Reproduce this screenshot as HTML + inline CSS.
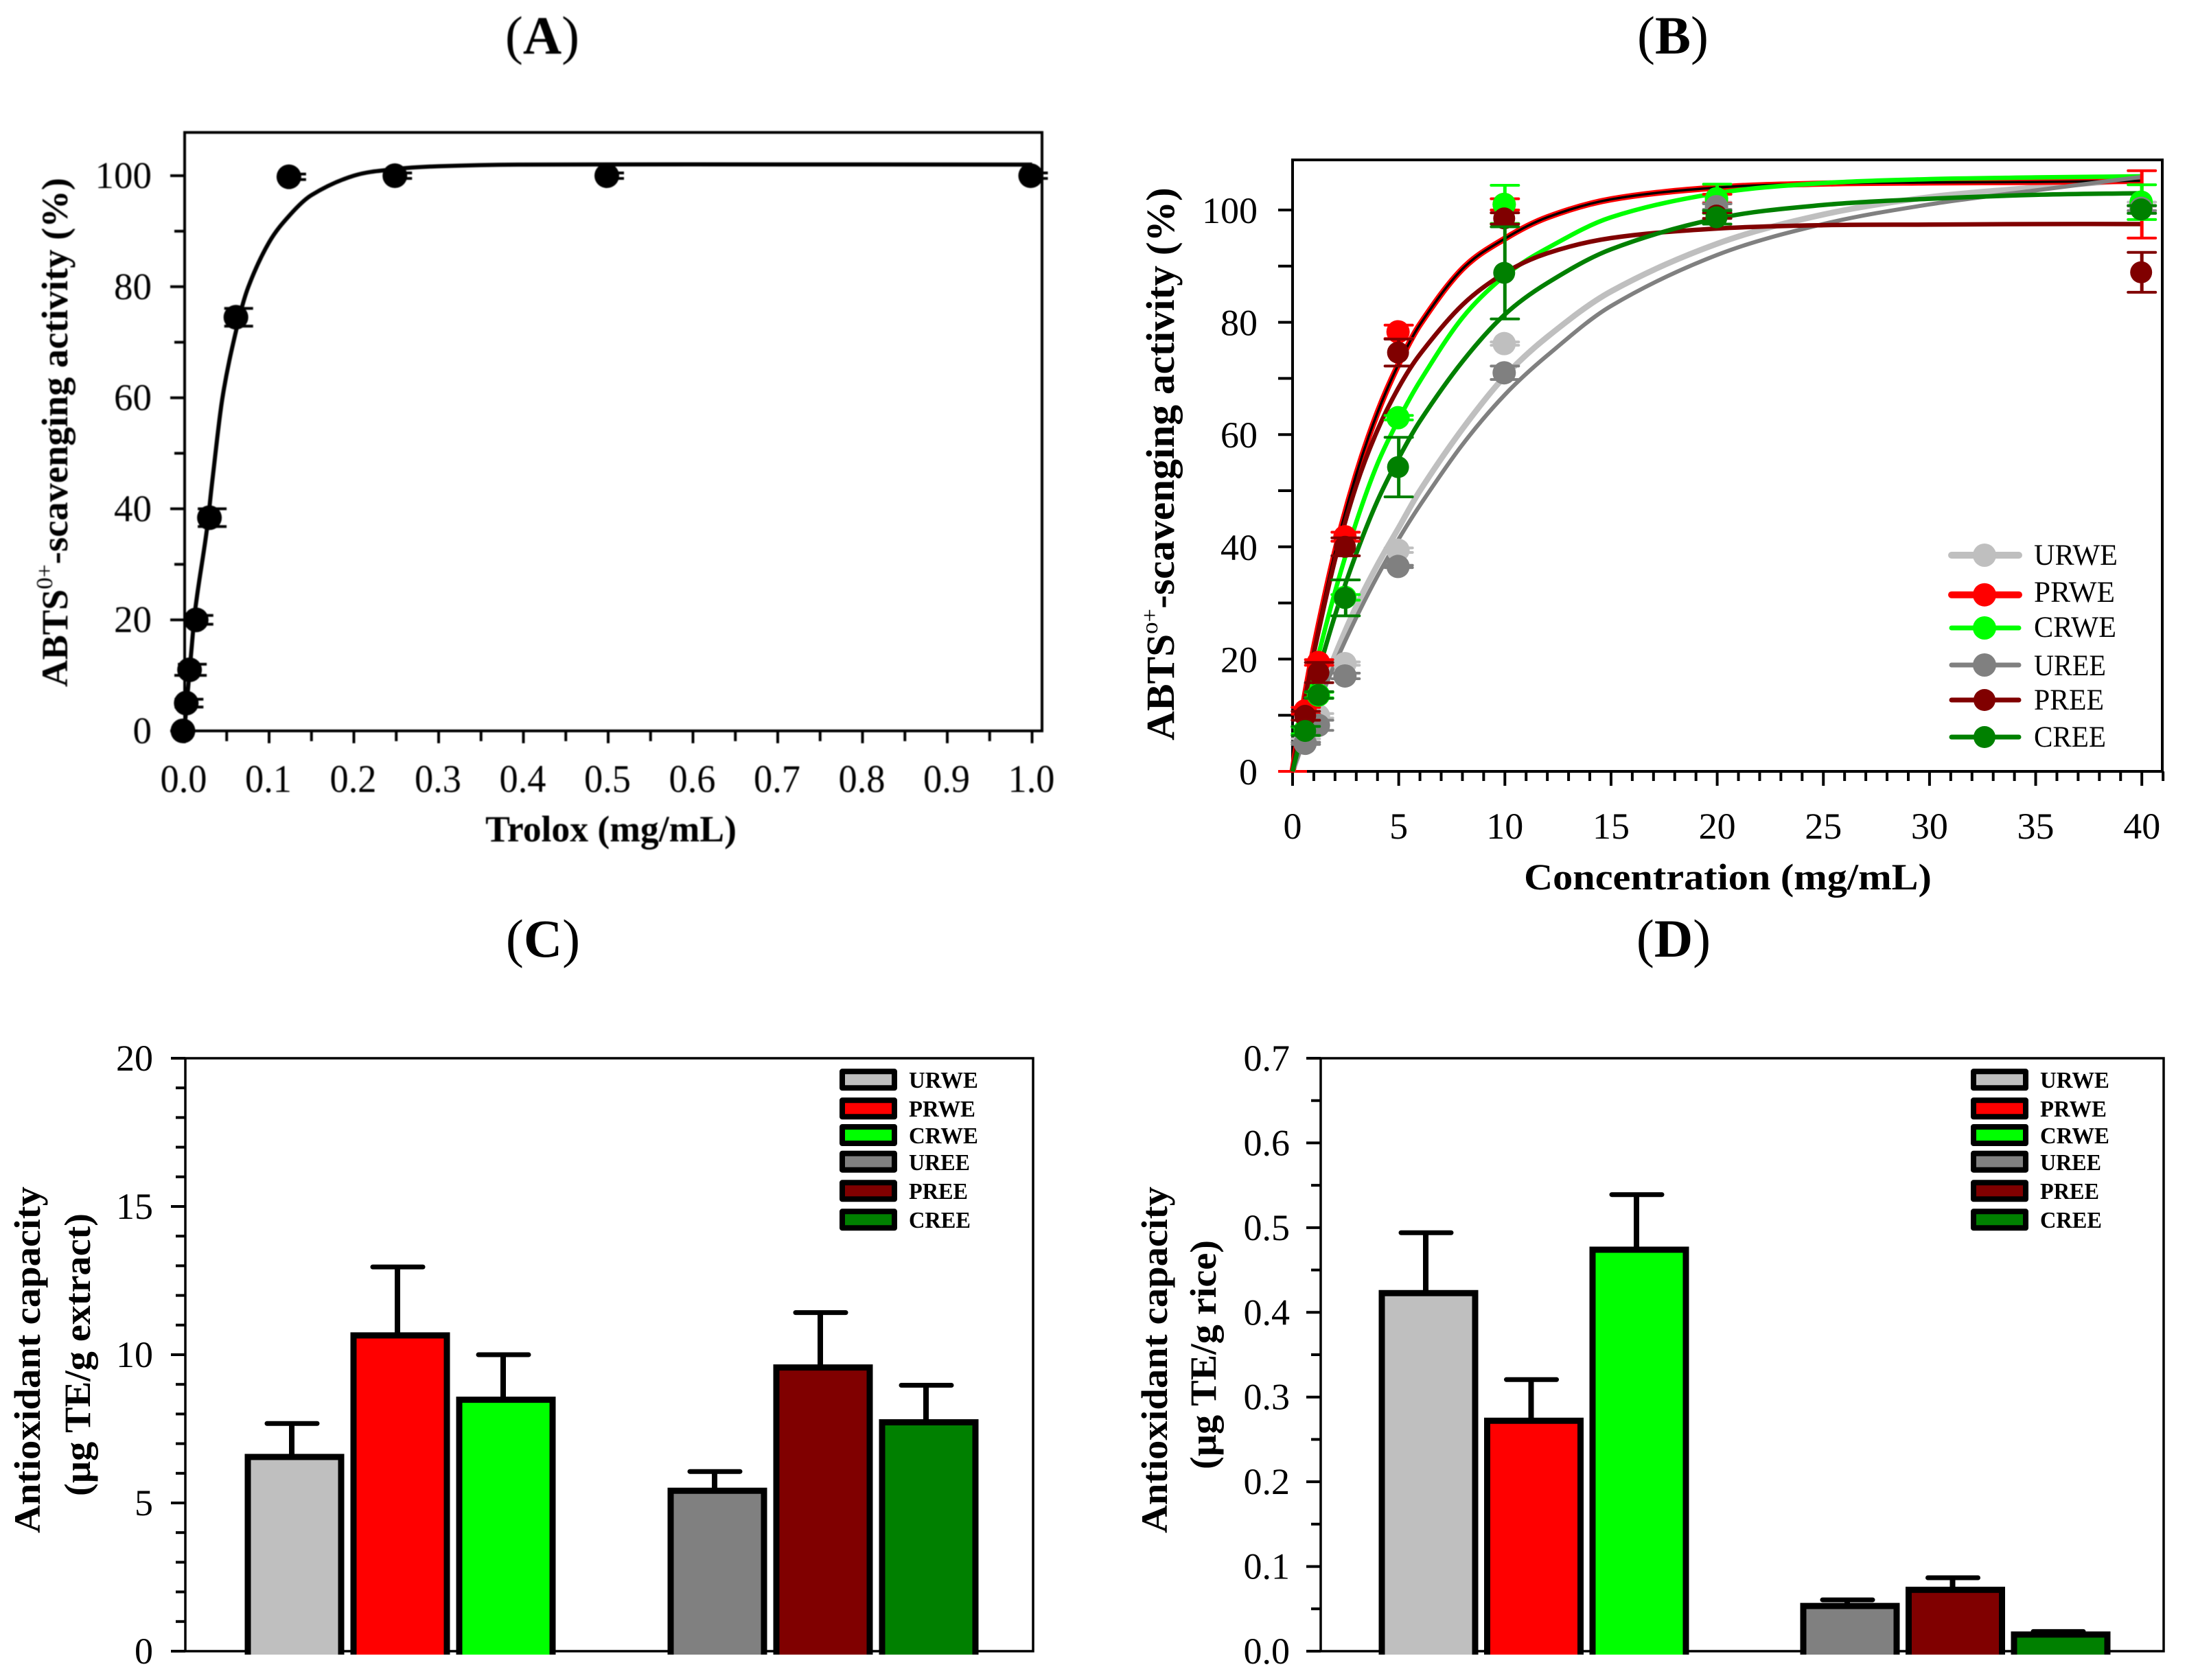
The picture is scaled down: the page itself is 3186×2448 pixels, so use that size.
<!DOCTYPE html>
<html lang="en">
<head>
<meta charset="utf-8">
<title>ABTS scavenging activity and antioxidant capacity</title>
<style>
html,body{margin:0;padding:0;background:#fff}
svg{display:block}
text{font-family:"Liberation Serif",serif;fill:#000}
</style>
</head>
<body>
<svg id="fig" xmlns="http://www.w3.org/2000/svg" width="3186" height="2448" viewBox="0 0 3186 2448">
<rect x="0" y="0" width="3186" height="2448" fill="#ffffff"/>
<g id="panelA" style="filter:blur(0.9px)"></g>
<g id="panelB"></g>
<g id="panelC"></g>
<g id="panelD"></g>
</svg>
<script>
/* ---------- Panel A data ---------- */
const aPointX = [0, 0.0039, 0.0078, 0.0156, 0.03125, 0.0625, 0.125, 0.25, 0.5, 1.0];
const aPointY = [0, 5, 11, 20, 38.4, 74.5, 99.8, 100, 100, 100];
const aPointErr = [0, 0.7, 1.0, 0.8, 1.6, 1.6, 0.5, 0.5, 0.5, 0.5];
const aCurveX = [0, 0.0075, 0.013, 0.0264, 0.033, 0.045, 0.0625, 0.0756, 0.1, 0.125, 0.15, 0.2, 0.25, 0.3, 0.4, 1.0];
const aCurveY = [0, 13, 22, 36, 45, 60, 73, 80, 88, 93, 96.5, 100, 101.2, 101.7, 102, 102];
const aXLabels = ['0.0','0.1','0.2','0.3','0.4','0.5','0.6','0.7','0.8','0.9','1.0'];
const aYLabels = ['0','20','40','60','80','100'];

/* ---------- Panel B data ---------- */
const seriesNames = ['URWE','PRWE','CRWE','UREE','PREE','CREE'];
const seriesColors = ['#bfbfbf','#ff0000','#00ff00','#808080','#800000','#008000'];
const bPointX = [0.625, 1.25, 2.5, 5, 10, 20, 40];
const urweY = [5.5, 9.9, 19.2, 39.4, 76.2, 100.6, 100.5];
const prweY = [10.8, 19.4, 41.8, 78.3, 101, 102, 101];
const crweY = [7.3, 13.6, 31, 63, 101, 102, 101.4];
const ureeY = [5, 8.2, 17, 36.5, 71, 100.6, 100.3];
const preeY = [9.9, 17.6, 40, 74.6, 98.5, 99, 88.9];
const creeY = [7.2, 13.6, 30.9, 54.2, 88.8, 98.7, 100.1];
const urweErr = [0.3, 0.4, 0.3, 0.4, 0.3, 0.8, 0.9];
const prweErr = [0.6, 0.5, 0.8, 1.2, 1, 0.8, 6];
const crweErr = [0.6, 0.5, 0.5, 0.4, 3.4, 2.6, 3.1];
const ureeErr = [0.2, 0.9, 0.5, 0.2, 1.2, 0.5, 0.4];
const preeErr = [0.8, 1.8, 1.6, 2.4, 1, 0.5, 3.55];
const creeErr = [0.8, 0.6, 3.2, 5.3, 8.2, 1.2, 0.7];
const bCurveX = [0, 0.5, 1, 2, 3, 4, 5, 6, 8, 10, 12, 15, 20, 25, 30, 35, 40];
const urweCurve = [0, 5.6, 10.9, 20.7, 29.4, 36.8, 43.4, 50, 61, 70.4, 77.4, 85.5, 94, 99.2, 102.3, 104, 105.5];
const prweCurve = [0, 11.7, 21.9, 39.1, 52.9, 63.9, 72.6, 79.6, 89.5, 94.9, 98.7, 101.9, 104, 104.7, 104.9, 105, 105.2];
const crweCurve = [0, 9, 17.4, 32, 44.4, 54.8, 62.7, 69.5, 80.8, 88.3, 93.2, 98.7, 103, 104.8, 105.5, 105.8, 106];
const ureeCurve = [0, 5.2, 10, 19.2, 27.4, 34.8, 41.4, 47.4, 58.2, 67.1, 74.1, 82.9, 92, 97.5, 101, 103.5, 105.9];
const preeCurve = [0, 11.1, 21, 37.7, 50.9, 60.8, 68.4, 74.3, 83.1, 88.8, 92.3, 95, 96.7, 97.3, 97.4, 97.5, 97.5];
const creeCurve = [0, 7.7, 14.9, 27.8, 38.8, 48.2, 55.8, 62.4, 73, 81.4, 87, 93, 98.5, 100.9, 102, 102.7, 103];
const bXLabels = ['0','5','10','15','20','25','30','35','40'];
const bYLabels = ['0','20','40','60','80','100'];

/* ---------- Panel C data ---------- */
const barSlots = [0, 1, 2, 4, 5, 6];
const cValues = [6.55, 10.65, 8.48, 5.41, 9.57, 7.72];
const cErrTops = [7.68, 12.96, 10.0, 6.06, 11.42, 8.97];
const cYLabels = ['0','5','10','15','20'];

/* ---------- Panel D data ---------- */
const dValues = [0.4227, 0.272, 0.474, 0.0534, 0.0724, 0.0196];
const dErrTops = [0.494, 0.3206, 0.539, 0.0606, 0.0867, 0.0232];
const dYLabels = ['0.0','0.1','0.2','0.3','0.4','0.5','0.6','0.7'];

/* ---------- axis functions ---------- */
const aX = v => 268.5 + 1235 * v;
const aY = v => 1065 - 8.09 * v;
const bX = v => 1883 + 30.93 * v;
const bY = v => 1124 - 8.18 * v;
const cX = s => 429 + 154 * s;
const cY = v => 2406 - 43.2 * v;
const dX = s => 2081 + 153.5 * s;
const dY = v => 2406 - 1234.3 * v;

const NS = 'http://www.w3.org/2000/svg';
const panelA = document.getElementById('panelA');
const panelB = document.getElementById('panelB');
const panelC = document.getElementById('panelC');
const panelD = document.getElementById('panelD');

function mk(parent, tag, attrs) {
  const node = document.createElementNS(NS, tag);
  for (const k in attrs) node.setAttribute(k, attrs[k]);
  parent.appendChild(node);
  return node;
}
function seg(parent, x1, y1, x2, y2, color, w, cap) {
  return mk(parent, 'line', {x1: x1, y1: y1, x2: x2, y2: y2, stroke: color, 'stroke-width': w, 'stroke-linecap': cap || 'butt'});
}
function label(parent, str, x, y, size, anchor, weight, target, rot) {
  const t = mk(parent, 'text', {'font-size': size, 'text-anchor': anchor, 'font-weight': weight});
  t.textContent = str;
  place(t, x, y, target, rot);
  return t;
}
function place(t, x, y, target, rot) {
  let s = 1;
  if (target) {
    const len = t.getComputedTextLength();
    if (len > 0) s = target / len;
  }
  t.setAttribute('transform', 'translate(' + x + ',' + y + ') rotate(' + (rot || 0) + ') scale(' + s + ',1)');
}
function richLabel(parent, parts, x, y, size, anchor, target, rot) {
  const t = mk(parent, 'text', {'font-size': size, 'text-anchor': anchor});
  parts.forEach(p => {
    const span = mk(t, 'tspan', {'font-weight': p.weight, 'font-size': p.size || size});
    if (p.dy) span.setAttribute('dy', p.dy);
    span.textContent = p.text;
  });
  place(t, x, y, target, rot);
  return t;
}
function smooth(xs, ys) {
  const n = xs.length, m = [];
  for (let i = 0; i < n; i++) {
    const a = Math.max(i - 1, 0), b = Math.min(i + 1, n - 1);
    m[i] = (ys[b] - ys[a]) / (xs[b] - xs[a]);
  }
  let d = 'M' + xs[0] + ',' + ys[0];
  for (let i = 0; i < n - 1; i++) {
    const h = xs[i + 1] - xs[i];
    d += 'C' + (xs[i] + h / 3) + ',' + (ys[i] + m[i] * h / 3) + ' ' + (xs[i + 1] - h / 3) + ',' + (ys[i + 1] - m[i + 1] * h / 3) + ' ' + xs[i + 1] + ',' + ys[i + 1];
  }
  return d;
}
function frame(parent, x0, y0, x1, y1, w) {
  return mk(parent, 'path', {d: 'M' + x0 + ',' + y0 + 'H' + x1 + 'V' + y1 + 'H' + x0 + 'Z', fill: 'none', stroke: '#000', 'stroke-width': w});
}
let el;

/* ========== Panel titles ========== */
function panelTitle(parent, letter, x, y) {
  return richLabel(parent, [{text: '(', weight: 'normal'}, {text: letter, weight: 'bold'}, {text: ')', weight: 'normal'}], x, y, 78, 'middle');
}
el = panelTitle(panelA, 'A', 790, 78);


el = panelTitle(panelB, 'B', 2437, 78);


el = panelTitle(panelC, 'C', 791, 1394);


el = panelTitle(panelD, 'D', 2438, 1394);



/* ========== Panel A ========== */
el = frame(panelA, 269, 193, 1518, 1065, 4);


for (let i = 0; i <= 20; i++) {
  const isMajor = i % 2 === 0;
  el = seg(panelA, aX(i * 0.05), 1065, aX(i * 0.05), 1065 + (isMajor ? 18 : 15), '#000', 4);
  
  
}
for (let i = 0; i <= 10; i++) {
  const isMajor = i % 2 === 0;
  el = seg(panelA, 269 - (isMajor ? 21 : 15), aY(i * 10), 269, aY(i * 10), '#000', 4);
  
  
}
aXLabels.forEach(s => {
  const t = label(panelA, s, aX(parseFloat(s)) - 1, 1154, 57, 'middle', 'normal', 68);
  
  
});
aYLabels.forEach(s => {
  const t = label(panelA, s, 221, aY(parseFloat(s)) + 18, 55, 'end', 'normal');
  
  
});
el = label(panelA, 'Trolox (mg/mL)', 890, 1226, 54, 'middle', 'bold', 366);


el = richLabel(panelA, [
  {text: 'ABTS', weight: 'bold'},
  {text: '0+', weight: 'normal', size: 34, dy: -22},
  {text: '-scavenging activity (%)', weight: 'bold', dy: 22}
], 98, 1001, 54, 'start', 742, -90);


el = mk(panelA, 'path', {d: smooth(aCurveX.map(aX), aCurveY.map(aY)), fill: 'none', stroke: '#000', 'stroke-width': 6});


aPointX.forEach((vx, i) => {
  const px = aX(vx), py = aY(aPointY[i]), e = aPointErr[i];
  let n = seg(panelA, px + 2, aY(aPointY[i] + e), px + 2, aY(aPointY[i] - e), '#000', 4);
  
  
  n = seg(panelA, px - 19, aY(aPointY[i] + e), px + 23, aY(aPointY[i] + e), '#000', 4);
  
  
  n = seg(panelA, px - 19, aY(aPointY[i] - e), px + 23, aY(aPointY[i] - e), '#000', 4);
  
  
  n = mk(panelA, 'circle', {cx: px - 2, cy: py, r: 18, fill: '#000'});
  
  
});

/* ========== Panel B ========== */
el = frame(panelB, 1883, 233, 3150, 1124, 4);


for (let i = 0; i <= 41; i++) {
  const isMajor = i % 5 === 0;
  el = seg(panelB, bX(i), 1124, bX(i), 1124 + (isMajor ? 21 : 14), '#000', 4);
  
  
}
for (let i = 0; i <= 10; i++) {
  el = seg(panelB, 1862, bY(i * 10), 1883, bY(i * 10), '#000', 4);
  
  
}
bXLabels.forEach(s => {
  const t = label(panelB, s, bX(parseFloat(s)), 1222, 54, 'middle', 'normal');
  
  
});
bYLabels.forEach(s => {
  const t = label(panelB, s, 1832, bY(parseFloat(s)) + 19, 54, 'end', 'normal');
  
  
});
el = label(panelB, 'Concentration (mg/mL)', 2517, 1296, 54, 'middle', 'bold', 594);


el = richLabel(panelB, [
  {text: 'ABTS', weight: 'bold'},
  {text: 'o+', weight: 'normal', size: 34, dy: -24},
  {text: '-scavenging activity (%)', weight: 'bold', dy: 24}
], 1710, 1079, 58, 'start', 806, -90);


el = seg(panelB, bX(0) - 21, bY(0), bX(0) + 21, bY(0), '#ff0000', 4);



const bCurves = [urweCurve, prweCurve, crweCurve, ureeCurve, preeCurve, creeCurve];
const bYs = [urweY, prweY, crweY, ureeY, preeY, creeY];
const bErrs = [urweErr, prweErr, crweErr, ureeErr, preeErr, creeErr];
const bCurveWidths = [8.5, 9, 6.5, 6, 6.5, 6.5];
const bRadii = [17, 17, 17, 17, 16, 16];
const curveLayer = mk(panelB, 'g', {});


seriesNames.forEach((name, k) => {
  const d = smooth(bCurveX.map(bX), bCurves[k].map(bY));
  const c = mk(curveLayer, 'path', {d: d, fill: 'none', stroke: seriesColors[k], 'stroke-width': bCurveWidths[k]});
  
  
  if (name === 'PRWE') {
    const inner = mk(curveLayer, 'path', {d: d, fill: 'none', stroke: '#000', 'stroke-width': 3.5});
    
    
  }
});
seriesNames.forEach((name, k) => {
  const col = seriesColors[k];
  bPointX.forEach((vx, i) => {
    const px = bX(vx), v = bYs[k][i], e = bErrs[k][i];
    let n = seg(panelB, px, bY(v + e), px, bY(v - e), col, 5);
    
    
    n = seg(panelB, px - 20, bY(v + e), px + 20, bY(v + e), col, 4, 'round');
    
    
    n = seg(panelB, px - 20, bY(v - e), px + 20, bY(v - e), col, 4, 'round');
    
    
    n = mk(panelB, 'circle', {cx: px - 1, cy: bY(v), r: bRadii[k], fill: col});
    
    
  });
});
const bLegendRowY = [809, 866.7, 915, 969, 1020, 1074];
const bLegendTextY = [823, 877, 928, 984, 1034, 1088];
const bLegendLineW = [10, 10, 7, 7, 7, 7];
const bLegendTextW = [122, 118, 120, 105, 102, 105];
seriesNames.forEach((name, k) => {
  const g = mk(panelB, 'g', {});
  
  
  let n = seg(g, 2843, bLegendRowY[k], 2941, bLegendRowY[k], seriesColors[k], bLegendLineW[k], 'round');
  
  
  n = mk(g, 'circle', {cx: 2891, cy: bLegendRowY[k], r: bRadii[k], fill: seriesColors[k]});
  
  
  n = label(g, name, 2963, bLegendTextY[k], 43, 'start', 'normal', bLegendTextW[k]);
  
  
});

/* ========== Panels C and D ========== */
function drawBars(parent, prefix, xFn, yFn, values, tops) {
  const base = 2406;
  values.forEach((v, i) => {
    const cx = xFn(barSlots[i]), yt = yFn(v), name = seriesNames[i].toLowerCase();
    let n = seg(parent, cx - 4, yFn(tops[i]), cx - 4, yt, '#000', 8);
    
    
    n = seg(parent, cx - 40, yFn(tops[i]), cx + 33, yFn(tops[i]), '#000', 7, 'round');
    
    
    const x0 = cx - 68, x1 = cx + 68;
    n = mk(parent, 'path', {d: 'M' + x0 + ',' + (base + 5) + 'V' + yt + 'H' + x1 + 'V' + (base + 5), fill: seriesColors[i], stroke: '#000', 'stroke-width': 9});
    
    
  });
}
function drawBarLegend(parent, dx) {
  const swatchTops = [1557.3, 1599.3, 1638, 1676.7, 1719.3, 1761.3];
  const textBase = [1585, 1627, 1666, 1705, 1747, 1789];
  const textW = [101, 97, 101, 89, 86, 90];
  seriesNames.forEach((name, k) => {
    const g = mk(parent, 'g', {});
    
    
    let n = mk(g, 'rect', {x: 1227 + dx, y: swatchTops[k] + 4, width: 76, height: 24, fill: seriesColors[k], stroke: '#000', 'stroke-width': 8, 'stroke-linejoin': 'round'});
    
    
    n = label(g, name, 1324 + dx, textBase[k], 34, 'start', 'bold', textW[k]);
    
    
  });
}

/* Panel C */
el = frame(panelC, 270, 1542, 1505, 2406, 3.5);


for (let i = 0; i <= 20; i++) {
  const isMajor = i % 5 === 0;
  el = seg(panelC, 270 - (isMajor ? 21 : 14), cY(i), 270, cY(i), '#000', 4);
  
  
}
cYLabels.forEach(s => {
  const t = label(panelC, s, 223, cY(parseFloat(s)) + 18, 54, 'end', 'normal');
  
  
});
el = label(panelC, 'Antioxidant capacity', 58, 2234, 54, 'start', 'bold', 505, -90);


el = label(panelC, '(µg TE/g extract)', 131, 2180, 54, 'start', 'bold', 412, -90);


drawBars(panelC, 'panel-c', cX, cY, cValues, cErrTops);
drawBarLegend(panelC, 0);

/* Panel D */
el = frame(panelD, 1924, 1542, 3152, 2406, 3.5);


for (let i = 0; i <= 14; i++) {
  const isMajor = i % 2 === 0;
  el = seg(panelD, 1924 - (isMajor ? 21 : 14), dY(i * 0.05), 1924, dY(i * 0.05), '#000', 4);
  
  
}
dYLabels.forEach(s => {
  const t = label(panelD, s, 1879, dY(parseFloat(s)) + 18, 54, 'end', 'normal');
  
  
});
el = label(panelD, 'Antioxidant capacity', 1700, 2234, 54, 'start', 'bold', 505, -90);


el = label(panelD, '(µg TE/g rice)', 1771, 2141, 54, 'start', 'bold', 334, -90);


drawBars(panelD, 'panel-d', dX, dY, dValues, dErrTops);
drawBarLegend(panelD, 1648);
</script>
</body>
</html>
